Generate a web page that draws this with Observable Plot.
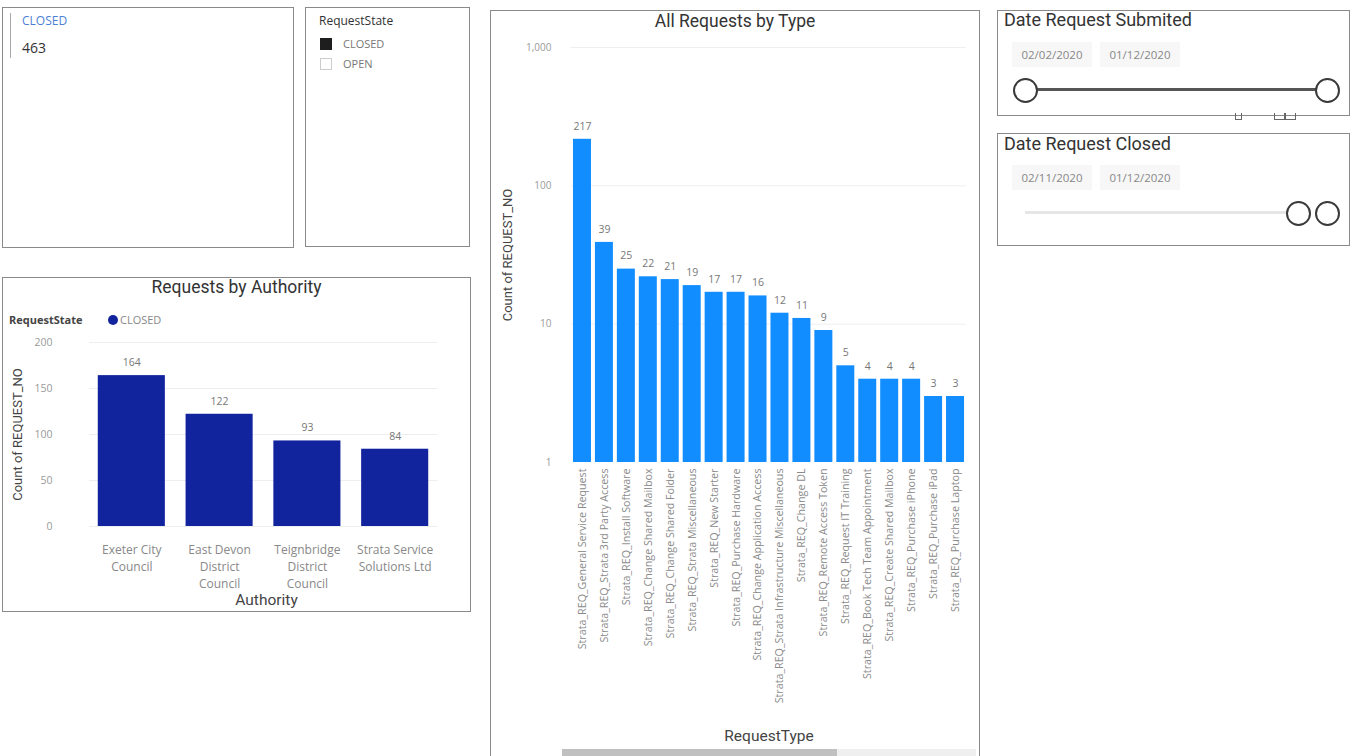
<!DOCTYPE html>
<html>
<head>
<meta charset="utf-8">
<script src="https://cdn.jsdelivr.net/npm/d3@7"></script>
<script src="https://cdn.jsdelivr.net/npm/@observablehq/plot@0.6"></script>
<style>
  html, body { margin: 0; padding: 0; background: #fff; }
  body { width: 1356px; height: 756px; position: relative; overflow: hidden; font-family: "Open Sans", "Noto Sans", sans-serif; }
  .panel { position: absolute; border: 1.5px solid #8a8a8a; box-sizing: border-box; background: #fff; }
  .abs { position: absolute; white-space: nowrap; }
  .title { font-family: Roboto, "Open Sans", sans-serif; font-size: 17.5px; color: #333; }
  .datebox { position: absolute; height: 25px; line-height: 25px; width: 80px; text-align: center; font-size: 11.5px; color: #888; background: #f7f7f7; }
  .knob { position: absolute; width: 25px; height: 25px; border-radius: 50%; border: 2px solid #3a3a3a; background: #fff; box-sizing: border-box; }
</style>
</head>
<body>

<!-- card -->
<div class="panel" style="left:2px; top:7px; width:292px; height:241px;"></div>
<div class="abs" style="left:10px; top:13px; width:1px; height:45px; background:#aaa;"></div>
<div class="abs" style="left:22px; top:12px; font-size:12px; color:#4d7fd6;">CLOSED</div>
<div class="abs" style="left:22px; top:38px; font-size:14px; color:#333;">463</div>

<!-- RequestState slicer -->
<div class="panel" style="left:305px; top:7px; width:165px; height:240px;"></div>
<div class="abs" style="left:319px; top:12px; font-size:12px; color:#333;">RequestState</div>
<div class="abs" style="left:320px; top:38px; width:12px; height:12px; background:#1e1e1e;"></div>
<div class="abs" style="left:343px; top:36px; font-size:11px; color:#777;">CLOSED</div>
<div class="abs" style="left:320px; top:58px; width:10px; height:10px; border:1px solid #ccc;"></div>
<div class="abs" style="left:343px; top:56px; font-size:11px; color:#777;">OPEN</div>

<!-- Requests by Authority -->
<div class="panel" style="left:2px; top:277px; width:469px; height:335px;"></div>
<div class="abs title" style="left:2px; width:469px; top:277px; text-align:center;">Requests by Authority</div>
<div class="abs" style="left:9px; top:312px; font-size:11px; font-weight:bold; color:#444;">RequestState</div>
<div class="abs" style="left:108px; top:315px; width:10px; height:10px; border-radius:50%; background:#12239E;"></div>
<div class="abs" style="left:120px; top:312px; font-size:11px; color:#888;">CLOSED</div>
<div id="authority" class="abs" style="left:3px; top:330px;"></div>

<!-- All Requests by Type -->
<div class="panel" style="left:490px; top:10px; width:490px; height:760px;"></div>
<div class="abs title" style="left:490px; width:490px; top:11px; text-align:center;">All Requests by Type</div>
<div id="types" class="abs" style="left:491px; top:32px;"></div>
<div class="abs" style="left:562px; top:749px; width:414px; height:7px; background:#efefef;"></div>
<div class="abs" style="left:562px; top:749px; width:275px; height:7px; background:#c0c0c0;"></div>

<!-- Date Request Submited -->
<div class="panel" style="left:997px; top:10px; width:353px; height:106px;"></div>
<div class="abs title" style="left:1004px; top:9px; font-size:18px;">Date Request Submited</div>
<div class="datebox" style="left:1012px; top:42px;">02/02/2020</div>
<div class="datebox" style="left:1100px; top:42px;">01/12/2020</div>
<div class="abs" style="left:1025px; top:88px; width:302px; height:3px; background:#555;"></div>
<div class="knob" style="left:1013px; top:78px;"></div>
<div class="knob" style="left:1315px; top:78px;"></div>
<div class="abs" style="left:1235px; top:113px; width:5px; height:6px; border:1px solid #666; border-top:none;"></div>
<div class="abs" style="left:1274px; top:113px; width:9px; height:6px; border:1px solid #666; border-top:none;"></div>
<div class="abs" style="left:1285px; top:113px; width:9px; height:6px; border:1px solid #666; border-top:none;"></div>

<!-- Date Request Closed -->
<div class="panel" style="left:997px; top:133px; width:353px; height:113px;"></div>
<div class="abs title" style="left:1004px; top:133px; font-size:18px;">Date Request Closed</div>
<div class="datebox" style="left:1012px; top:165px;">02/11/2020</div>
<div class="datebox" style="left:1100px; top:165px;">01/12/2020</div>
<div class="abs" style="left:1025px; top:211px; width:262px; height:3px; background:#e6e6e6;"></div>
<div class="knob" style="left:1286px; top:201px;"></div>
<div class="knob" style="left:1315px; top:201px;"></div>

<script>
// Closed requests per authority
const authorities = ["Exeter City Council", "East Devon District Council", "Teignbridge District Council", "Strata Service Solutions Ltd"];
const authorityTickLabels = ["Exeter City\nCouncil", "East Devon\nDistrict\nCouncil", "Teignbridge\nDistrict\nCouncil", "Strata Service\nSolutions Ltd"];
const authorityCounts = [164, 122, 93, 84];
const authorityTicks = [0, 50, 100, 150, 200];

// Requests per request type (log scale)
const requestTypes = [
  "Strata_REQ_General Service Request",
  "Strata_REQ_Strata 3rd Party Access",
  "Strata_REQ_Install Software",
  "Strata_REQ_Change Shared Mailbox",
  "Strata_REQ_Change Shared Folder",
  "Strata_REQ_Strata Miscellaneous",
  "Strata_REQ_New Starter",
  "Strata_REQ_Purchase Hardware",
  "Strata_REQ_Change Application Access",
  "Strata_REQ_Strata Infrastructure Miscellaneous",
  "Strata_REQ_Change DL",
  "Strata_REQ_Remote Access Token",
  "Strata_REQ_Request IT Training",
  "Strata_REQ_Book Tech Team Appointment",
  "Strata_REQ_Create Shared Mailbox",
  "Strata_REQ_Purchase iPhone",
  "Strata_REQ_Purchase iPad",
  "Strata_REQ_Purchase Laptop"
];
const requestCounts = [217, 39, 25, 22, 21, 19, 17, 17, 16, 12, 11, 9, 5, 4, 4, 4, 3, 3];
const logTicks = [1, 10, 100, 1000];

const authorityData = authorities.map((a, i) => ({authority: a, count: authorityCounts[i]}));
const typeData = requestTypes.map((t, i) => ({type: t, count: requestCounts[i]}));
const tickLabelOf = new Map(authorities.map((a, i) => [a, authorityTickLabels[i]]));

const fontFamily = "'Open Sans', 'Noto Sans', sans-serif";
const titleFont = "Roboto, 'Open Sans', sans-serif";

const authorityChart = Plot.plot({
  width: 467,
  height: 280,
  marginTop: 12,
  marginBottom: 84,
  marginLeft: 86,
  marginRight: 33,
  style: {fontFamily, background: "transparent"},
  x: {domain: authorities, paddingInner: 0.236, paddingOuter: 0.1, round: false, axis: null},
  y: {domain: [0, 200], axis: null},
  marks: [
    Plot.gridY(authorityTicks, {stroke: "#eeeeee", strokeOpacity: 1}),
    Plot.axisY(authorityTicks, {tickSize: 0, tickPadding: 37, fontSize: 10.5, fill: "#9a9a9a", label: null}),
    Plot.axisX({tickSize: 0, tickPadding: 16, fontSize: 12, fill: "#888", lineHeight: 1.4,
      tickFormat: d => tickLabelOf.get(d), label: null}),
    Plot.barY(authorityData, {x: "authority", y: "count", fill: "#12239E"}),
    Plot.text(authorityData, {x: "authority", y: "count", text: d => String(d.count), dy: -13,
      fontSize: 10.5, fill: "#777"}),
    Plot.text(["Count of REQUEST_NO"], {frameAnchor: "left", textAnchor: "middle", rotate: -90, dx: -72,
      fontSize: 13, fill: "#444", fontFamily: titleFont}),
    Plot.text(["Authority"], {frameAnchor: "bottom", dy: 78, dx: 3, fontSize: 15.5, fill: "#444", fontFamily: titleFont})
  ]
});
document.getElementById("authority").appendChild(authorityChart);

const typeChart = Plot.plot({
  width: 488,
  height: 724,
  marginTop: 15,
  marginBottom: 294,
  marginLeft: 80,
  marginRight: 13,
  style: {fontFamily, background: "transparent"},
  x: {domain: requestTypes, paddingInner: 0.18, paddingOuter: 0.09, round: false, axis: null},
  y: {type: "log", domain: [1, 1000], axis: null},
  marks: [
    Plot.gridY(logTicks.slice(1), {stroke: "#eeeeee", strokeOpacity: 1}),
    Plot.axisY(logTicks, {tickSize: 0, tickPadding: 20, fontSize: 10, fill: "#9a9a9a",
      tickFormat: d3.format(","), label: null}),
    Plot.axisX({tickSize: 0, tickPadding: 6, tickRotate: -90, fontSize: 10.7, fill: "#8a8a8a", label: null}),
    Plot.barY(typeData, {x: "type", y1: 1, y2: "count", fill: "#118DFF"}),
    Plot.text(typeData, {x: "type", y: "count", text: d => String(d.count), dy: -13,
      fontSize: 10.5, fill: "#777"}),
    Plot.text(["Count of REQUEST_NO"], {frameAnchor: "left", textAnchor: "middle", rotate: -90, dx: -64,
      fontSize: 13, fill: "#444", fontFamily: titleFont}),
    Plot.text(["RequestType"], {frameAnchor: "bottom", dy: 278, fontSize: 15.5, fill: "#444", fontFamily: titleFont})
  ]
});
document.getElementById("types").appendChild(typeChart);
</script>
</body>
</html>
